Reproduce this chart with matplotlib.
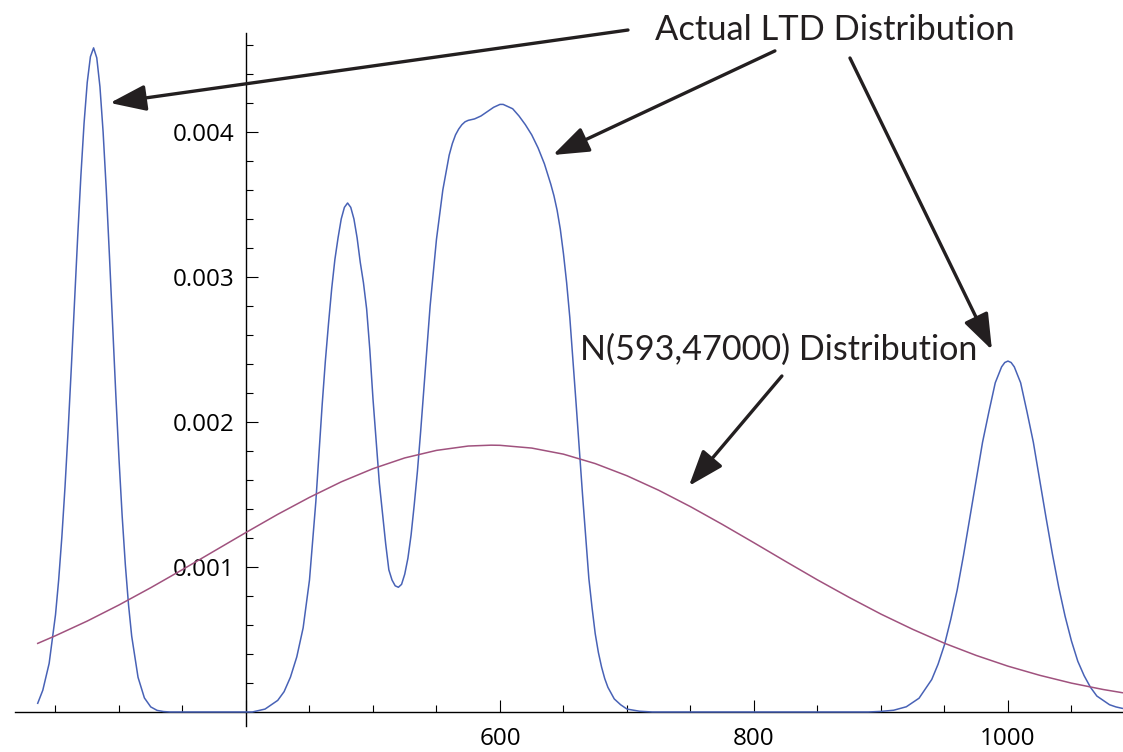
import matplotlib
matplotlib.use('Agg')
import matplotlib.pyplot as plt
from matplotlib.ticker import FixedLocator

plt.rcParams['font.family'] = ['Open Sans', 'DejaVu Sans']

# actual LTD density
ltd_x = [236, 240, 245, 250, 252.5, 255, 257.5, 260, 262.5, 265, 267.5, 270, 272.5,
         275, 277.5, 280, 282.5, 285, 287.5, 290, 292.5, 295, 297.5, 300, 302.5,
         305, 307.5, 310, 315, 320, 325, 330, 335, 340, 400,
         405, 415, 425, 430, 435, 440, 445, 450, 455, 457.5, 460, 462.5, 465, 467.5,
         470, 472.5, 475, 477.5, 480, 482.5, 485, 487.5, 490, 492.5, 495, 497.5,
         500, 505, 510, 512.5, 515, 517.5, 520, 522.5, 525, 527.5, 530, 532.5, 535,
         537.5, 540, 545, 550, 555, 560, 562.5, 565, 567.5, 570, 572.5, 575, 580,
         585, 590, 595, 597.5, 600, 602.5, 605, 610, 615, 620, 625, 630, 635, 640,
         642.5, 645, 647.5, 650, 652.5, 655, 660, 665, 670, 672.5, 675, 677.5, 680,
         682.5, 685, 690, 695, 700, 710, 720,
         890, 900, 910, 920, 930, 940, 945, 950, 955, 960, 965, 970, 975, 980, 985,
         990, 995, 997.5, 1000, 1002.5, 1005, 1010, 1015, 1020, 1025, 1030, 1035,
         1040, 1045, 1050, 1055, 1060, 1065, 1070, 1075, 1080, 1085, 1090]
ltd_y = [0.000060, 0.000150, 0.000335, 0.000670, 0.000911, 0.001206, 0.001553,
         0.001949, 0.002381, 0.002832, 0.003281, 0.003699, 0.004061,
         0.004342, 0.004519, 0.004580, 0.004511, 0.004312, 0.003999, 0.003599,
         0.003142, 0.002662, 0.002188, 0.001746, 0.001351,
         0.001015, 0.000740, 0.000523, 0.000239, 0.000097, 0.000035, 0.000011,
         0.000003, 0.0, 0.0,
         0.0, 0.00002, 0.00008, 0.00014, 0.00024, 0.00038, 0.00058, 0.00091, 0.00145,
         0.00178, 0.00212, 0.00242, 0.00268, 0.00292,
         0.00312, 0.00327, 0.00340, 0.00348, 0.00351, 0.00348, 0.00340, 0.00327,
         0.00310, 0.00296, 0.00278, 0.00250,
         0.00216, 0.00158, 0.00116, 0.00098, 0.00091, 0.00087, 0.00086, 0.00088,
         0.00095, 0.00106, 0.00122, 0.00143, 0.00166,
         0.00193, 0.00222, 0.00280, 0.00326, 0.00360, 0.00384, 0.00392, 0.00398,
         0.00402, 0.00405, 0.00407, 0.00408, 0.00409,
         0.00411, 0.00414, 0.00417, 0.00418, 0.00419, 0.00419, 0.00418, 0.00416,
         0.00411, 0.00405, 0.00398, 0.00389, 0.00378, 0.00364,
         0.00356, 0.00346, 0.00333, 0.00316, 0.00296, 0.00272, 0.00212, 0.00150,
         0.00092, 0.00072, 0.00054, 0.00041, 0.00031,
         0.00023, 0.00017, 0.00009, 0.00005, 0.00002, 0.000005, 0.0,
         0.0, 0.000004, 0.000012, 0.000036, 0.000095, 0.000224, 0.00033, 0.000463,
         0.00064, 0.00084, 0.00108, 0.00134, 0.00160, 0.00186, 0.00207,
         0.00227, 0.00238, 0.00241, 0.00242, 0.00241, 0.00238, 0.00227, 0.00207,
         0.00186, 0.00160, 0.00134, 0.00109,
         0.00086, 0.00066, 0.00049, 0.00035, 0.00025, 0.00017, 0.00011, 0.00008,
         0.00005, 0.000035, 0.000025]

# N(593, 47000) density
normal_x = [236, 250, 275, 300, 325, 350, 375, 400, 425, 450, 475, 500, 525, 550,
            575, 593, 600, 625, 650, 675, 700, 725, 750, 775, 800, 825, 850, 875,
            900, 925, 950, 975, 1000, 1025, 1050, 1075, 1090]
normal_y = [0.000473, 0.000526, 0.000627, 0.000738, 0.000857, 0.000982, 0.001110,
            0.001238, 0.001363, 0.001480, 0.001587, 0.001678, 0.001752, 0.001804,
            0.001834, 0.001840, 0.001839, 0.001820, 0.001778, 0.001713, 0.001629,
            0.001529, 0.001416, 0.001294, 0.001167, 0.001038, 0.000911, 0.000790,
            0.000675, 0.000570, 0.000474, 0.000390, 0.000316, 0.000253, 0.000199,
            0.000155, 0.000133]

x_major = [400, 600, 800, 1000]
x_labels = ['', '600', '800', '1000']
x_minor = list(range(250, 1051, 50))
y_major = [0.001, 0.002, 0.003, 0.004]
y_labels = ['0.001', '0.002', '0.003', '0.004']
y_minor = [round(0.0002 * i, 4) for i in range(1, 24)]

fig = plt.figure(figsize=(11.23, 7.52), dpi=100)
ax = fig.add_axes([0, 0, 1, 1])
ax.patch.set_visible(False)

ax.plot(ltd_x, ltd_y, color='#4862b6', lw=1.1, zorder=3)
ax.plot(normal_x, normal_y, color='#a0527e', lw=1.1, zorder=3)

ax.set_xlim(206.3, 1090.6)
ax.set_ylim(-0.000276, 0.00491)

for side in ['top', 'right']:
    ax.spines[side].set_visible(False)
ax.spines['left'].set_position(('data', 400))
ax.spines['bottom'].set_position(('data', 0))
ax.spines['left'].set_bounds(-0.000097, 0.00468)
ax.spines['bottom'].set_bounds(218, 1090.6)
for side in ['left', 'bottom']:
    ax.spines[side].set_linewidth(1.0)
    ax.spines[side].set_zorder(2)

ax.set_xticks(x_major, x_labels)
ax.xaxis.set_minor_locator(FixedLocator(x_minor))
ax.set_yticks(y_major, y_labels)
ax.yaxis.set_minor_locator(FixedLocator(y_minor))
ax.tick_params(which='major', direction='in', length=8.6, width=0.8, colors='black')
ax.tick_params(which='minor', direction='in', length=5.3, width=0.8, colors='black')
ax.tick_params(axis='x', which='major', labelsize=17.5, pad=10.5)
ax.tick_params(axis='y', which='major', labelsize=17.4, pad=8.6)

ink = '#231f20'
ax.text(722, 0.004634, 'Actual LTD Distribution', fontsize=24.8, color=ink,
        ha='left', va='baseline', family=['Lato', 'DejaVu Sans'])
ax.text(663, 0.002428, 'N(593,47000) Distribution', fontsize=24.6, color=ink,
        ha='left', va='baseline', family=['Lato', 'DejaVu Sans'])

arrow_style = dict(arrowstyle='-|>,head_length=1.1,head_width=0.4', lw=2.4,
                   color=ink, shrinkA=0, shrinkB=0, mutation_scale=20)
arrows = [((700.8, 0.004703), (292.9, 0.00420)),
          ((816.5, 0.004559), (641.7, 0.003841)),
          ((875.6, 0.00451), (987.4, 0.002497)),
          ((822.0, 0.002317), (748.8, 0.001559))]
for tail, tip in arrows:
    ax.annotate('', xy=tip, xytext=tail, arrowprops=arrow_style,
                annotation_clip=False)

fig.savefig('out.png', dpi=100)
